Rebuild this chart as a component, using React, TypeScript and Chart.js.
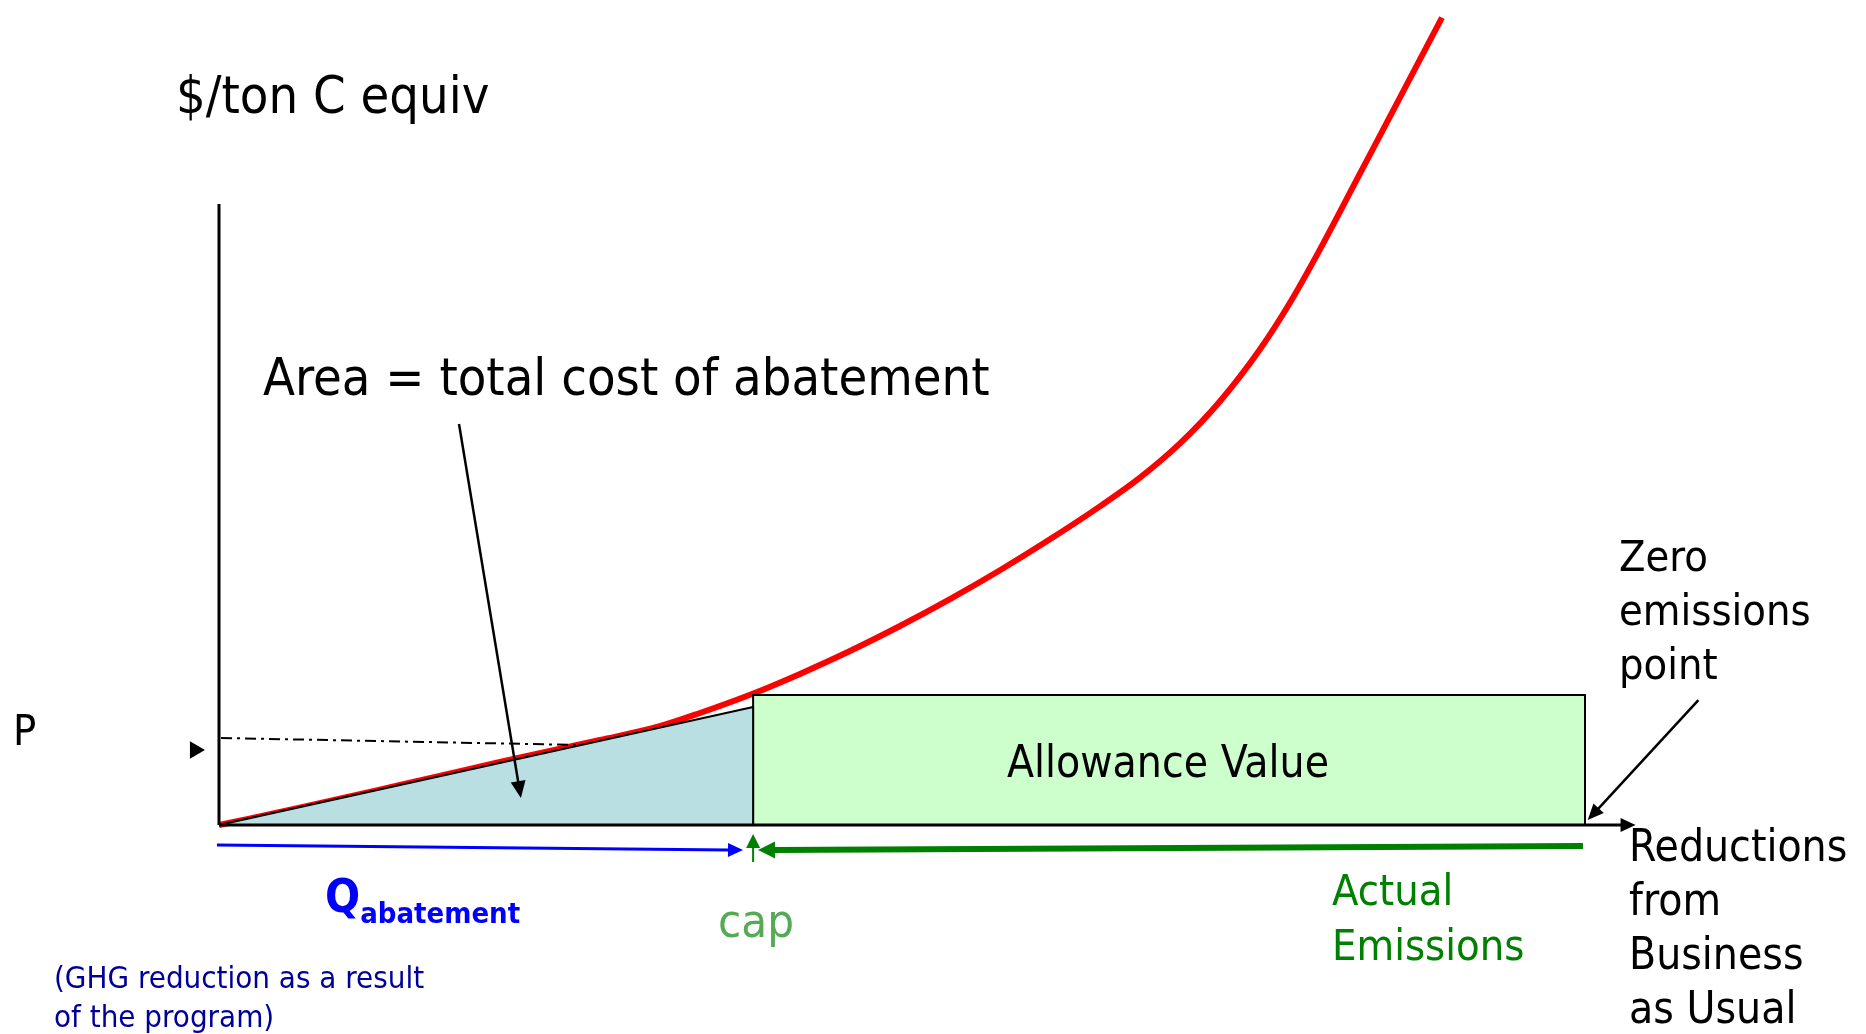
import React, { useEffect, useRef } from "react";
import { Chart, registerables } from "chart.js";

Chart.register(...registerables);

// ---------- data (x: reductions from business as usual, 100 = zero emissions point; y: $/ton C equiv) ----------
const mccX = [0, 6.15, 13.25, 20.57, 27.89, 32.06, 35.21, 39.02, 42.53, 46.19, 49.85, 53.51, 57.17, 60.83, 64.49, 67.42, 70.35, 73.28, 76.21, 78.4, 80.6, 83.53, 86.46, 89.53];
const mccY = [0, 2.18, 4.85, 7.64, 10.3, 11.88, 13.58, 15.88, 18.32, 21.09, 24.12, 27.38, 30.88, 34.63, 38.62, 42.1, 46.25, 51.37, 57.67, 63.3, 69.77, 78.98, 88.19, 97.87];
const capX = 39.1;
const zeroEmissionsX = 100;
const allowancePrice = 15.76;
const abatementTopY = 14.3;
const priceLineX = [0.15, 26.4];
const priceLineY = [10.55, 9.7];
const priceMarkerX = [-1.76];
const priceMarkerY = [9.09];
const yAxisTop = 75.27;
const xAxisEnd = 103.7;
const qArrowX = [-0.15, 38.36];
const qArrowY = [-2.42, -3.03];
const emitArrowX = [99.85, 39.46];
const emitArrowY = [-2.55, -3.03];
const capArrowY = [-4.48, -1.09];
const areaArrowX = [17.57, 22.1];
const areaArrowY = [48.6, 3.27];
const zeroArrowX = [108.3, 100.2];
const zeroArrowY = [15.15, 0.6];

const FONT = "'DejaVu Sans Condensed', 'DejaVu Sans', sans-serif";

type Label = { lines: string[]; x: number; y: number; step: number; size: number; color: string; align: CanvasTextAlign; bold?: boolean };

const labels: Label[] = [
  { lines: ["$/ton C equiv"], x: -3.15, y: 86.3, step: 0, size: 52, color: "#000", align: "left" },
  { lines: ["Area = total cost of abatement"], x: 3.22, y: 52.12, step: 0, size: 52, color: "#000", align: "left" },
  { lines: ["P"], x: -15.08, y: 9.7, step: 0, size: 43, color: "#000", align: "left" },
  { lines: ["Allowance Value"], x: 69.47, y: 5.82, step: 0, size: 44, color: "#000", align: "center" },
  { lines: ["Zero", "emissions", "point"], x: 102.49, y: 30.79, step: 6.55, size: 43, color: "#000", align: "left" },
  { lines: ["Reductions", "from", "Business", "as Usual"], x: 103.22, y: -4.36, step: 6.55, size: 44, color: "#000", align: "left" },
  { lines: ["Actual", "Emissions"], x: 81.48, y: -9.7, step: 6.66, size: 43, color: "#008000", align: "left" },
  { lines: ["cap"], x: 36.53, y: -13.58, step: 0, size: 47, color: "#55aa55", align: "left" },
  { lines: ["(GHG reduction as a result", "of the program)"], x: -12.08, y: -19.76, step: 4.72, size: 31, color: "#000099", align: "left" },
];

const textPlugin = {
  id: "diagramText",
  afterDraw(chart: any) {
    const { ctx, scales } = chart;
    const sx = scales.x, sy = scales.y;
    ctx.save();
    ctx.textBaseline = "alphabetic";
    labels.forEach((l) => {
      ctx.font = `${l.bold ? "bold " : ""}${l.size}px ${FONT}`;
      ctx.fillStyle = l.color;
      ctx.textAlign = l.align;
      l.lines.forEach((t, i) => {
        ctx.fillText(t, sx.getPixelForValue(l.x), sy.getPixelForValue(l.y - i * l.step));
      });
    });
    // Q with subscript
    ctx.fillStyle = "#0000ff";
    ctx.textAlign = "left";
    ctx.font = `bold 46px ${FONT}`;
    const qx = sx.getPixelForValue(7.76);
    ctx.fillText("Q", qx, sy.getPixelForValue(-10.55));
    const qw = ctx.measureText("Q").width;
    ctx.font = `bold 29px ${FONT}`;
    ctx.fillText("abatement", qx + qw, sy.getPixelForValue(-11.88));
    ctx.restore();
  },
};

const arrowPlugin = {
  id: "arrowHeads",
  afterDatasetsDraw(chart: any) {
    const ctx = chart.ctx;
    chart.data.datasets.forEach((ds: any, i: number) => {
      const head = ds.arrowHead;
      if (!head) return;
      const pts = chart.getDatasetMeta(i).data;
      const a = pts[0], b = pts[pts.length - 1];
      const ang = Math.atan2(b.y - a.y, b.x - a.x);
      const c = Math.cos(ang), s = Math.sin(ang);
      const bx = b.x - head.len * c, by = b.y - head.len * s;
      ctx.save();
      ctx.strokeStyle = ds.borderColor;
      ctx.fillStyle = ds.borderColor;
      ctx.lineWidth = head.width;
      ctx.lineCap = "butt";
      ctx.beginPath();
      ctx.moveTo(a.x, a.y);
      ctx.lineTo(bx + 1 * c, by + 1 * s);
      ctx.stroke();
      ctx.beginPath();
      ctx.moveTo(b.x, b.y);
      ctx.lineTo(bx + head.half * s, by - head.half * c);
      ctx.lineTo(bx - head.half * s, by + head.half * c);
      ctx.closePath();
      ctx.fill();
      ctx.restore();
    });
  },
};

function pts(xs: number[], ys: number[]) {
  return xs.map((x, i) => ({ x, y: ys[i] }));
}

function arrowDs(xs: number[], ys: number[], color: string, width: number, len: number, half: number) {
  return {
    type: "scatter",
    data: pts(xs, ys),
    showLine: false,
    pointRadius: 0,
    borderColor: color,
    backgroundColor: color,
    arrowHead: { width, len, half },
    order: 0,
  } as any;
}

export default function App() {
  const ref = useRef<HTMLCanvasElement | null>(null);

  useEffect(() => {
    if (!ref.current) return;
    const chart = new Chart(ref.current, {
      type: "scatter",
      data: {
        datasets: [
          // marginal cost of abatement curve
          {
            data: pts(mccX, mccY),
            showLine: true,
            borderColor: "#ff0000",
            borderWidth: 6,
            pointRadius: 0,
            cubicInterpolationMode: "monotone",
            fill: false,
            order: 5,
          } as any,
          // total cost of abatement triangle
          {
            data: pts([0, capX, capX, 0], [0, abatementTopY, 0, 0]),
            showLine: true,
            tension: 0,
            borderColor: "#000000",
            borderWidth: 2,
            backgroundColor: "#b9dfe3",
            pointRadius: 0,
            fill: "shape",
            order: 3,
          } as any,
          // allowance value rectangle
          {
            data: pts([capX, capX, zeroEmissionsX, zeroEmissionsX, capX], [0, allowancePrice, allowancePrice, 0, 0]),
            showLine: true,
            tension: 0,
            borderColor: "#000000",
            borderWidth: 2,
            backgroundColor: "#ccffcc",
            pointRadius: 0,
            fill: "shape",
            order: 3,
          } as any,
          // price dash-dot line
          {
            data: pts(priceLineX, priceLineY),
            showLine: true,
            borderColor: "#000000",
            borderWidth: 2,
            borderDash: [11, 5, 3, 5],
            pointRadius: 0,
            order: 2,
          } as any,
          // P marker
          {
            data: pts(priceMarkerX, priceMarkerY),
            pointStyle: "triangle",
            rotation: 90,
            pointRadius: 10,
            backgroundColor: "#000",
            borderColor: "#000",
            borderWidth: 0,
            order: 2,
          } as any,
          // y axis
          {
            data: pts([0, 0], [0, yAxisTop]),
            showLine: true,
            borderColor: "#000000",
            borderWidth: 3,
            pointRadius: 0,
            order: 1,
          } as any,
          // x axis (arrow)
          arrowDs([0, xAxisEnd], [0, 0], "#000000", 3, 15, 7),
          arrowDs(qArrowX, qArrowY, "#0000ff", 3, 15, 7),
          arrowDs(emitArrowX, emitArrowY, "#008000", 6, 17, 8.5),
          arrowDs([capX, capX], capArrowY, "#008000", 2, 14, 7),
          arrowDs(areaArrowX, areaArrowY, "#000000", 2.5, 17, 7.5),
          arrowDs(zeroArrowX, zeroArrowY, "#000000", 2.5, 16, 7),
        ],
      },
      options: {
        animation: false,
        responsive: false,
        maintainAspectRatio: false,
        layout: { padding: 0, autoPadding: false },
        plugins: { legend: { display: false }, tooltip: { enabled: false } },
        scales: {
          x: { type: "linear", min: -16.032, max: 120.57, display: false },
          y: { type: "linear", min: -25.33, max: 100, display: false },
        },
      } as any,
      plugins: [arrowPlugin, textPlugin],
    });
    return () => chart.destroy();
  }, []);

  return (
    <div style={{ position: "fixed", left: 0, top: 0, width: 1866, height: 1034, background: "#fff" }}>
      <canvas ref={ref} width={1866} height={1034} style={{ width: 1866, height: 1034, display: "block" }} />
    </div>
  );
}
